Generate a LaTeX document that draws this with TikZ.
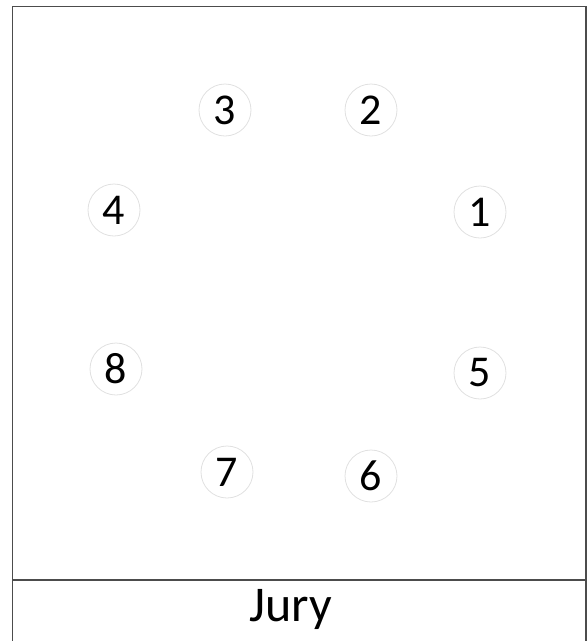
\documentclass[tikz,border=0pt]{standalone}
\usepackage{fontspec}
\setmainfont{Carlito}
\begin{document}
\begin{tikzpicture}[x=1pt,y=-1pt,
  seat/.style={circle,draw=black!12,line width=0.8pt,minimum size=52pt,inner sep=0pt,font=\fontsize{44}{46}\selectfont},
  frame/.style={draw=black!70,line width=1.2pt}]
\useasboundingbox (0,0) rectangle (587,641);
\draw[frame] (12.5,641) -- (12.5,6.5) -- (586,6.5) -- (586,641);
\draw[frame] (12.5,580) -- (586,580);
\node[font=\fontsize{50}{52}\selectfont] (jury) at (291,609) {Jury};
\node[seat] (s3) at (225,110) {3};
\node[seat] (s2) at (371,110) {2};
\node[seat] (s4) at (114,210) {4};
\node[seat] (s1) at (480,212) {1};
\node[seat] (s8) at (116,369) {8};
\node[seat] (s5) at (480,373) {5};
\node[seat] (s7) at (227,472) {7};
\node[seat] (s6) at (371,476) {6};
\end{tikzpicture}
\end{document}
